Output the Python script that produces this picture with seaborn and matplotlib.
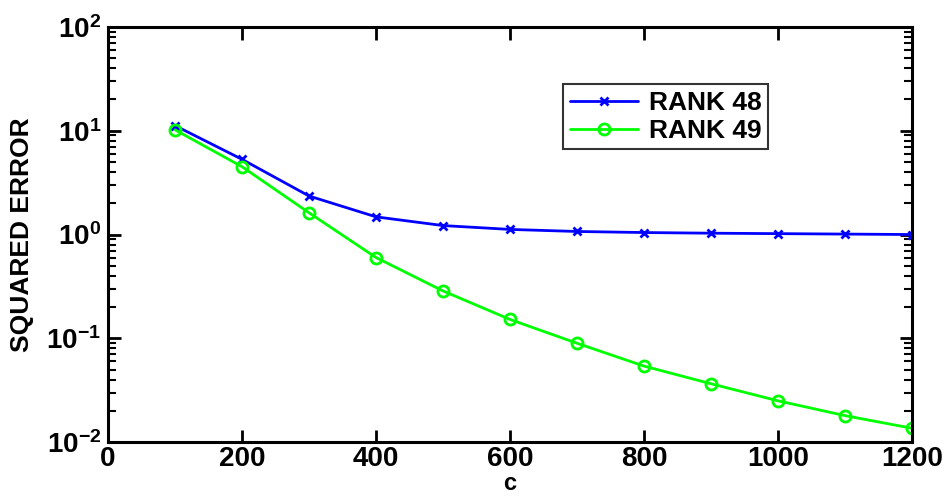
import numpy as np
import pandas as pd
import seaborn as sns
import matplotlib.pyplot as plt

# values
c = [100, 200, 300, 400, 500, 600, 700, 800, 900, 1000, 1100, 1200]
rank48 = [11.2, 5.3, 2.35, 1.48, 1.22, 1.12, 1.07, 1.045, 1.03, 1.02, 1.01, 1.0]
rank49 = [10.2, 4.5, 1.62, 0.60, 0.286, 0.152, 0.0896, 0.054, 0.0365, 0.025, 0.018, 0.0136]

sns.set_style('white')
plt.rcParams['font.family'] = ['Liberation Sans', 'DejaVu Sans']
plt.rcParams['font.weight'] = 'bold'
plt.rcParams['text.color'] = 'black'
plt.rcParams['axes.labelcolor'] = 'black'
plt.rcParams['xtick.color'] = 'black'
plt.rcParams['ytick.color'] = 'black'

fig = plt.figure(figsize=(9.48, 4.99), dpi=100)
ax = fig.add_axes([0.114, 0.114, 0.848, 0.832])

sns.lineplot(x=c, y=rank48, color='#0000ff', marker='x', markersize=6,
             markeredgewidth=2, markeredgecolor='#0000ff', linewidth=2,
             label='RANK 48', ax=ax)
sns.lineplot(x=c, y=rank49, color='#00ff00', marker='o', markersize=8,
             markerfacecolor='none', markeredgewidth=2, markeredgecolor='#00ff00',
             linewidth=2, label='RANK 49', ax=ax)

ax.set_yscale('log')
ax.set_xlim(0, 1200)
ax.set_ylim(1e-2, 1e2)
ax.set_xticks(range(0, 1201, 200))
ax.set_yticks([1e-2, 1e-1, 1e0, 1e1, 1e2])
ax.tick_params(axis='both', which='both', direction='in', top=True, right=True,
               left=True, bottom=True, labelsize=20, width=2, pad=5,
               colors='black')
ax.tick_params(axis='x', pad=3)
ax.tick_params(axis='both', which='major', length=9)
ax.tick_params(axis='y', which='minor', length=6, width=1.5)
for lab in ax.get_xticklabels() + ax.get_yticklabels():
    lab.set_fontweight('bold')
for s in ax.spines.values():
    s.set_linewidth(2.2)
    s.set_color('black')

ax.set_xlabel('c', fontsize=17, fontweight='bold', labelpad=0, color='black')
ax.set_ylabel('SQUARED ERROR', fontsize=19, fontweight='bold', labelpad=9,
              color='black', family=['Liberation Sans Narrow', 'Liberation Sans'])

leg = ax.legend(loc='upper left', bbox_to_anchor=(0.566, 0.862), fontsize=19,
                frameon=True, fancybox=False, edgecolor='black',
                handlelength=2.6, handletextpad=0.4, borderpad=0.25,
                labelspacing=0.15, borderaxespad=0)
leg.get_frame().set_linewidth(1.5)
for t in leg.get_texts():
    t.set_fontweight('bold')
    t.set_color('black')

fig.savefig('out.png', dpi=100)
